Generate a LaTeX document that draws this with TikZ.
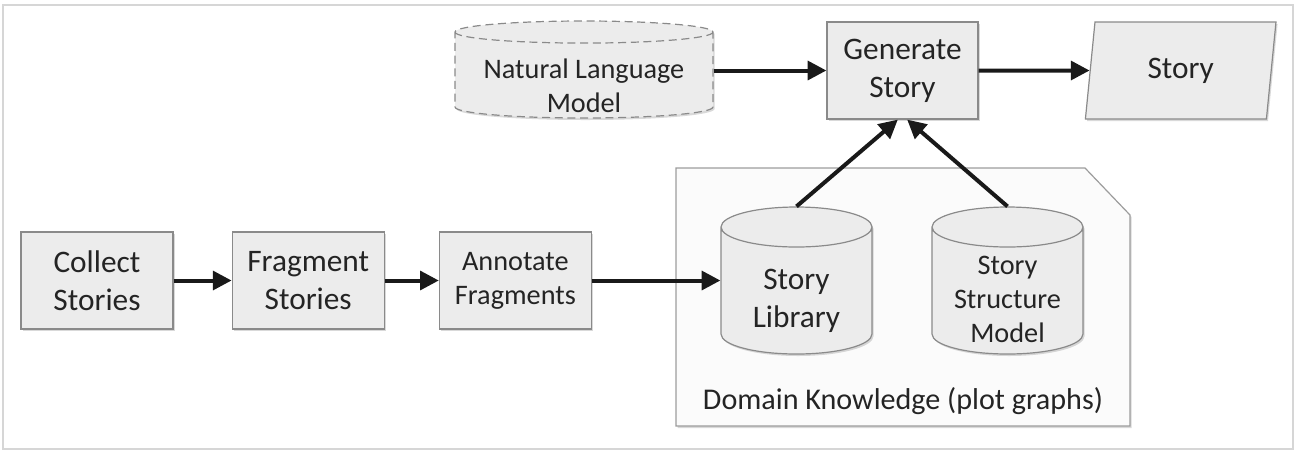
\documentclass[tikz,border=0pt]{standalone}
\usepackage{fontspec}
\setmainfont{Carlito}
\usetikzlibrary{arrows.meta, positioning, shapes.geometric, shadows}
\definecolor{boxfill}{RGB}{236,236,236}
\definecolor{boxline}{RGB}{138,138,138}
\definecolor{domfill}{RGB}{251,251,251}
\definecolor{framegray}{RGB}{214,214,214}
\definecolor{txtgray}{RGB}{36,36,36}

\begin{document}
\begin{tikzpicture}[x=0.75pt, y=-0.75pt,
    bigtxt/.style={font=\fontsize{23.5}{28.7}\selectfont},
    smalltxt/.style={font=\fontsize{21.2}{25.3}\selectfont},
    softshadow/.style={drop shadow={shadow xshift=1.2pt, shadow yshift=-1.5pt, opacity=0.3}},
    procbox/.style={draw=boxline, fill=boxfill, line width=0.9pt, minimum width=114pt, minimum height=72.75pt,
        align=center, inner sep=2pt, text=txtgray, softshadow, bigtxt},
    store/.style={cylinder, shape border rotate=90, draw=boxline, fill=boxfill, line width=0.9pt,
        text width=100pt, minimum width=113.25pt, minimum height=110.25pt, aspect=0.3, inner sep=0pt,
        softshadow, anchor=shape center},
    storetxt/.style={align=center, text=txtgray, inner sep=0pt},
    flow/.style={-{Triangle[length=14pt, width=14pt]}, line width=3pt, draw=black!90}]
    \useasboundingbox (0,0) rectangle (1304,462);
    % page frame
    \draw[framegray, line width=1.1pt] (3,5) rectangle (1293,449);

    % Domain knowledge container (cut corner)
    \draw[draw=boxline!85, fill=domfill, line width=0.9pt, softshadow]
        (676,168) -- (1085,168) -- (1130,215) -- (1130,426) -- (676,426) -- cycle;
    \node[font=\fontsize{22.6}{27}\selectfont, text=txtgray] (domain_lbl) at (903,401) {Domain Knowledge (plot graphs)};

    % Preparation pipeline
    \node[procbox] (collect) at (97,280.5) {Collect\\Stories};
    \node[procbox, right=43.5pt of collect] (fragment) {Fragment\\Stories};
    \node[procbox, smalltxt, right=40.5pt of fragment] (annotate) {Annotate\\Fragments};

    % Knowledge stores
    \node[store] (story_lib) at (796.5,280.5) {};
    \node[storetxt, bigtxt] (story_lib_txt) at ([yshift=-15.4pt]story_lib.shape center) {Story\\Library};
    \node[store] (struct_model) at (1007.5,280.5) {};
    \node[storetxt, smalltxt] (struct_model_txt) at ([yshift=-14.1pt]struct_model.shape center) {Story\\Structure\\Model};

    % Generation row
    \node[procbox, minimum width=113.25pt] (generate) at (902.5,70.5) {Generate\\Story};
    \node[store, dashed, dash pattern=on 6pt off 3.5pt, text width=180pt, minimum width=193.5pt,
        minimum height=72.75pt, aspect=0.092] (nl_model) at (584,69.5) {};
    \node[storetxt, smalltxt] (nl_model_txt) at ([yshift=-12pt]nl_model.shape center) {Natural Language\\Model};
    \node[trapezium, trapezium left angle=83, trapezium right angle=97, trapezium stretches=true,
        draw=boxline, fill=boxfill, line width=0.9pt, minimum width=143.25pt, minimum height=72.75pt,
        text=txtgray, softshadow, bigtxt, right=83.25pt of generate] (story_out) {Story};

    % Connectors
    \draw[flow] (collect) -- (fragment);
    \draw[flow] (fragment) -- (annotate);
    \draw[flow] (annotate) -- (story_lib.west |- annotate.east);
    \draw[flow] (nl_model.east |- generate.west) -- (generate);
    \draw[flow] (generate) -- (story_out);
    \draw[flow] (story_lib.top) -- ([xshift=-3.5pt]generate.south);
    \draw[flow] (struct_model.top) -- ([xshift=3.5pt]generate.south);
\end{tikzpicture}
\end{document}
